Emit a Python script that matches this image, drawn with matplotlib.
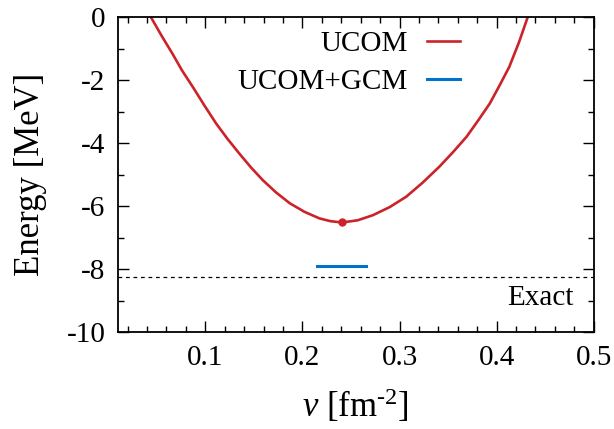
import matplotlib
matplotlib.use('Agg')
import matplotlib.pyplot as plt
from matplotlib.ticker import MultipleLocator

plt.rcParams['font.family'] = ['Liberation Serif', 'DejaVu Serif']
plt.rcParams['mathtext.fontset'] = 'custom'
plt.rcParams['mathtext.rm'] = 'Liberation Serif'
plt.rcParams['mathtext.it'] = 'Liberation Serif:italic'
plt.rcParams['axes.unicode_minus'] = False

# UCOM energy curve
nu_ucom = [0.044, 0.055, 0.066, 0.076, 0.087, 0.099, 0.111, 0.123, 0.135,
           0.147, 0.159, 0.173, 0.187, 0.202, 0.2175, 0.229, 0.241,
           0.257, 0.2725, 0.290, 0.307, 0.324, 0.341, 0.355, 0.369,
           0.381, 0.393, 0.403, 0.413, 0.423, 0.432]
e_ucom = [0.0, -0.59, -1.15, -1.69, -2.21, -2.80, -3.37, -3.87, -4.33,
          -4.77, -5.17, -5.57, -5.91, -6.18, -6.39, -6.48, -6.52,
          -6.45, -6.29, -6.03, -5.70, -5.25, -4.75, -4.29, -3.80,
          -3.28, -2.74, -2.17, -1.58, -0.80, 0.0]
nu_min = [0.241]
e_min = [-6.52]
# UCOM+GCM result (short horizontal bar)
nu_gcm = [0.215, 0.265]
e_gcm = [-7.91, -7.91]
e_exact = -8.24

red = '#cc2229'
blue = '#0072cc'

fig = plt.figure(figsize=(6.14, 4.29), dpi=100)
ax = fig.add_axes([0.192, 0.226, 0.775, 0.734])

ax.plot(nu_ucom, e_ucom, color=red, lw=1.9, label='UCOM')
ax.plot(nu_min, e_min, 'o', color=red, ms=5)
ax.plot(nu_gcm, e_gcm, color=blue, lw=2.2, label='UCOM+GCM')
ax.axhline(e_exact, color='black', lw=0.9, ls=(0, (3, 3)))
ax.text(0.958, 0.108, 'Exact', transform=ax.transAxes, ha='right',
        va='center', fontsize=21)

ax.set_xlim(0.01, 0.5)
ax.set_ylim(-10, 0)
ax.xaxis.set_major_locator(MultipleLocator(0.1))
ax.xaxis.set_minor_locator(MultipleLocator(0.02))
ax.yaxis.set_major_locator(MultipleLocator(2))
ax.yaxis.set_minor_locator(MultipleLocator(1))
ax.tick_params(which='both', direction='in', top=True, right=True,
               labelsize=21, width=1)
ax.tick_params(which='major', length=8, pad=9)
ax.tick_params(which='minor', length=4)
for s in ax.spines.values():
    s.set_linewidth(1.3)

ax.set_xlabel(r'$\nu$ [fm$^{\text{-}2}$]', fontsize=25, labelpad=12)
ax.set_ylabel('Energy [MeV]', fontsize=25, labelpad=14)

ax.legend(loc='upper right', bbox_to_anchor=(0.743, 0.995), frameon=False,
          markerfirst=False, fontsize=21, handlelength=1.13,
          handletextpad=0.65, labelspacing=0.42, borderaxespad=0)

fig.savefig('out.png', dpi=100)
